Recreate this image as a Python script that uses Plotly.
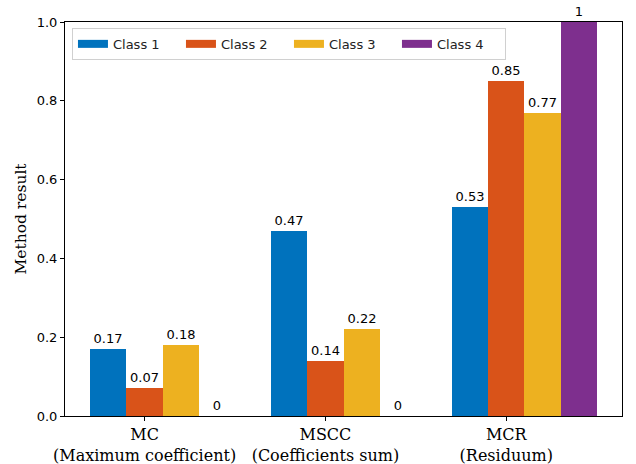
import plotly.graph_objects as go

categories = ["MC<br>(Maximum coefficient)", "MSCC<br>(Coefficients sum)", "MCR<br>(Residuum)"]
series_names = ["Class 1", "Class 2", "Class 3", "Class 4"]
class1 = [0.17, 0.47, 0.53]
class2 = [0.07, 0.14, 0.85]
class3 = [0.18, 0.22, 0.77]
class4 = [0.0, 0.0, 1.0]
colors = ["#0072BD", "#D95319", "#EDB120", "#7E2F8E"]
y_ticks = [0.0, 0.2, 0.4, 0.6, 0.8, 1.0]

series = [class1, class2, class3, class4]
offsets = [-0.2, 0.0, 0.2, 0.4]
width = 0.2
xs = list(range(len(categories)))

fig = go.Figure()
for name, vals, col, off in zip(series_names, series, colors, offsets):
    fig.add_trace(go.Bar(
        x=[x + off for x in xs], y=vals, width=width,
        marker=dict(color=col, line=dict(width=0)),
        text=[f"{v:g}" for v in vals], textposition="outside",
        textfont=dict(family="DejaVu Sans", size=13, color="black"),
        cliponaxis=False, showlegend=False, name=name,
    ))
for name, col in zip(series_names, colors):
    fig.add_trace(go.Scatter(
        x=[None], y=[None], mode="lines", name=name,
        line=dict(color=col, width=8), showlegend=True,
    ))

fig.update_layout(
    width=636, height=464,
    margin=dict(l=65, r=14, t=22, b=48, autoexpand=False),
    plot_bgcolor="white", paper_bgcolor="white",
    bargap=0, barmode="overlay",
    font=dict(family="DejaVu Sans", size=13, color="black"),
    legend=dict(
        orientation="h", x=0.0125, y=0.985, xanchor="left", yanchor="top",
        bgcolor="white", bordercolor="#d0d0d0", borderwidth=1,
        font=dict(family="DejaVu Sans", size=13, color="#222"),
        entrywidth=63, entrywidthmode="pixels",
    ),
    xaxis=dict(
        range=[-0.44, 2.64], tickmode="array", tickvals=xs, ticktext=categories,
        showline=True, linecolor="black", linewidth=1, mirror=True, automargin=False,
        ticks="outside", ticklen=4, tickcolor="black", showgrid=False, zeroline=False,
        tickfont=dict(family="DejaVu Serif", size=16, color="black"),
    ),
    yaxis=dict(
        range=[0, 1.0], tickmode="array", tickvals=y_ticks,
        ticktext=[f"{t:.1f}" for t in y_ticks], automargin=False,
        showline=True, linecolor="black", linewidth=1, mirror=True,
        ticks="outside", ticklen=4, tickcolor="black", showgrid=False, zeroline=False,
        tickfont=dict(family="DejaVu Sans", size=13, color="black"),
        title=dict(text="Method result", font=dict(family="DejaVu Serif", size=15.5, color="black"), standoff=6),
    ),
)

fig.write_html("out.html", config={"displayModeBar": False},
               post_script="document.body.style.margin='0px';document.body.style.overflow='hidden';")
